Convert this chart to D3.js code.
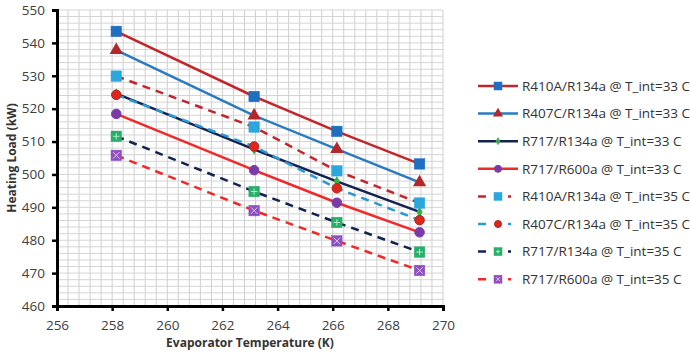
<!DOCTYPE html>
<html>
<head>
<meta charset="utf-8">
<script src="https://cdn.jsdelivr.net/npm/d3@7"></script>
<style>
  body { margin: 0; background: #fff; }
  text { font-family: "Open Sans", "DejaVu Sans", sans-serif; }
</style>
</head>
<body>
<div id="canvasplot"></div>
<script>
// evaporator temperatures (K)
var temps = [258.15, 263.15, 266.15, 269.15];

// heating load (kW) per refrigerant pair
var r410a_33 = [543.5, 523.7, 513.1, 503.2];
var r407c_33 = [537.8, 517.9, 507.7, 497.6];
var r717_134_33 = [524.6, 507.6, 497.9, 488.6];
var r717_600_33 = [518.4, 501.3, 491.4, 482.4];
var r410a_35 = [529.9, 514.4, 501.1, 491.3];
var r407c_35 = [524.2, 508.5, 495.8, 486.1];
var r717_134_35 = [511.6, 494.8, 485.4, 476.4];
var r717_600_35 = [505.8, 489.0, 479.8, 470.8];

var labels = ["R410A/R134a @ T_int=33 C", "R407C/R134a @ T_int=33 C",
              "R717/R134a @ T_int=33 C", "R717/R600a @ T_int=33 C",
              "R410A/R134a @ T_int=35 C", "R407C/R134a @ T_int=35 C",
              "R717/R134a @ T_int=35 C", "R717/R600a @ T_int=35 C"];

var xTicks = [256, 258, 260, 262, 264, 266, 268, 270];
var yTicks = [460, 470, 480, 490, 500, 510, 520, 530, 540, 550];

var series = [
  {values: r410a_33, line: "#c0272d", dash: null, marker: "square", fill: "#1f6fc1", stroke: "#1f6fc1"},
  {values: r407c_33, line: "#2a7bc0", dash: null, marker: "triangle", fill: "#b3262a", stroke: "#b3262a"},
  {values: r717_134_33, line: "#14224f", dash: null, marker: "diamond", fill: "#3cb044", stroke: "#3cb044"},
  {values: r717_600_33, line: "#ee2a2a", dash: null, marker: "circle", fill: "#7a3aa8", stroke: "#7a3aa8"},
  {values: r410a_35, line: "#c0272d", dash: "8,6", marker: "square", fill: "#2aa7dd", stroke: "#2aa7dd"},
  {values: r407c_35, line: "#2a9ad6", dash: "8,6", marker: "circle", fill: "#e0261c", stroke: "#a5281e"},
  {values: r717_134_35, line: "#14224f", dash: "8,6", marker: "squarePlus", fill: "#27ae6a", stroke: "#27ae6a"},
  {values: r717_600_35, line: "#ee2a2a", dash: "8,6", marker: "squareX", fill: "#8e4fc0", stroke: "#8e4fc0"}
];

var margin = {top: 10, left: 57},
    width = 443 - 57,
    height = 306 - 10;

var svg = d3.select("#canvasplot").append("svg")
  .attr("width", 690)
  .attr("height", 356);

var inner = svg.append("g")
  .attr("transform", "translate(" + margin.left + "," + margin.top + ")");

var Xscale = d3.scaleLinear().domain([256, 270]).range([0, width]);
var Yscale = d3.scaleLinear().domain([460, 550]).range([height, 0]);

// minor grid
inner.append("g")
  .selectAll("line")
  .data(d3.range(256, 270.001, 0.4))
  .join("line")
  .attr("x1", function(d) { return Xscale(d); })
  .attr("x2", function(d) { return Xscale(d); })
  .attr("y1", 0).attr("y2", height)
  .style("stroke", "#cfcfcf").style("stroke-width", 1);

inner.append("g")
  .selectAll("line")
  .data(d3.range(460, 550.001, 2))
  .join("line")
  .attr("y1", function(d) { return Yscale(d); })
  .attr("y2", function(d) { return Yscale(d); })
  .attr("x1", 0).attr("x2", width)
  .style("stroke", "#d4d4d4").style("stroke-width", 1);

// axes
var axisX = inner.append("g")
  .attr("transform", "translate(0," + height + ")")
  .call(d3.axisBottom(Xscale).tickValues(xTicks).tickSize(5).tickPadding(9).tickFormat(d3.format("d")));
var axisY = inner.append("g")
  .call(d3.axisLeft(Yscale).tickValues(yTicks).tickSize(5).tickPadding(7).tickFormat(d3.format("d")));

[axisX, axisY].forEach(function(ax) {
  ax.select(".domain").style("stroke", "#000").style("stroke-width", 3);
  ax.selectAll(".tick line").style("stroke", "#000").style("stroke-width", 2.5);
  ax.selectAll(".tick text").style("font-size", "13.5px").style("fill", "#404040");
});

// axis titles
svg.append("text")
  .attr("x", 250).attr("y", 347)
  .style("text-anchor", "middle")
  .style("font-size", "12px").style("font-weight", "bold").style("fill", "#333")
  .text("Evaporator Temperature (K)");

svg.append("text")
  .attr("transform", "translate(16," + (margin.top + height / 2) + ") rotate(-90)")
  .style("text-anchor", "middle")
  .style("font-size", "12px").style("font-weight", "bold").style("fill", "#333")
  .text("Heating Load (kW)");

function drawMarker(g, s, size) {
  var h = size / 2;
  if (s.marker === "square" || s.marker === "squarePlus" || s.marker === "squareX") {
    g.append("rect").attr("x", -h).attr("y", -h).attr("width", size).attr("height", size)
      .style("fill", s.fill).style("stroke", s.stroke).style("stroke-width", 0.5);
    if (s.marker === "squarePlus") {
      g.append("path").attr("d", "M" + (-h + 2) + ",0H" + (h - 2) + "M0," + (-h + 2) + "V" + (h - 2))
        .style("stroke", "#b8ecc8").style("stroke-width", 1);
    }
    if (s.marker === "squareX") {
      g.append("path").attr("d", "M" + (-h + 2) + "," + (-h + 2) + "L" + (h - 2) + "," + (h - 2) +
        "M" + (h - 2) + "," + (-h + 2) + "L" + (-h + 2) + "," + (h - 2))
        .style("stroke", "#e2c8f2").style("stroke-width", 1);
    }
  } else if (s.marker === "triangle") {
    g.append("path").attr("d", d3.symbol(d3.symbolTriangle, size * size * 0.7)())
      .style("fill", s.fill);
  } else if (s.marker === "diamond") {
    g.append("path").attr("d", d3.symbol(d3.symbolDiamond, size * size * 0.3)())
      .style("fill", s.fill);
  } else {
    g.append("circle").attr("r", h - 0.5)
      .style("fill", s.fill).style("stroke", s.stroke).style("stroke-width", 1);
  }
}

var line = d3.line()
  .x(function(d, i) { return Xscale(temps[i]); })
  .y(function(d) { return Yscale(d); });

series.forEach(function(s) {
  inner.append("path")
    .datum(s.values)
    .attr("d", line)
    .style("fill", "none")
    .style("stroke", s.line)
    .style("stroke-width", 2.5)
    .style("stroke-dasharray", s.dash);
});

series.forEach(function(s) {
  s.values.forEach(function(v, i) {
    var g = inner.append("g")
      .attr("transform", "translate(" + Xscale(temps[i]) + "," + Yscale(v) + ")");
    drawMarker(g, s, 10.5);
  });
});

// legend
var legend = svg.append("g").attr("transform", "translate(478,86)");
series.forEach(function(s, i) {
  var g = legend.append("g").attr("transform", "translate(0," + i * 27.6 + ")");
  g.append("line").attr("x1", 0).attr("x2", 40).attr("y1", 0).attr("y2", 0)
    .style("stroke", s.line).style("stroke-width", 2.5)
    .style("stroke-dasharray", s.dash ? "8,9,5,8,3" : null);
  var m = g.append("g").attr("transform", "translate(20,0)");
  drawMarker(m, s, 8);
  g.append("text").attr("x", 44).attr("y", 0).attr("dy", "0.35em")
    .style("font-size", "13.5px").style("fill", "#333")
    .text(labels[i]);
});
</script>
</body>
</html>
